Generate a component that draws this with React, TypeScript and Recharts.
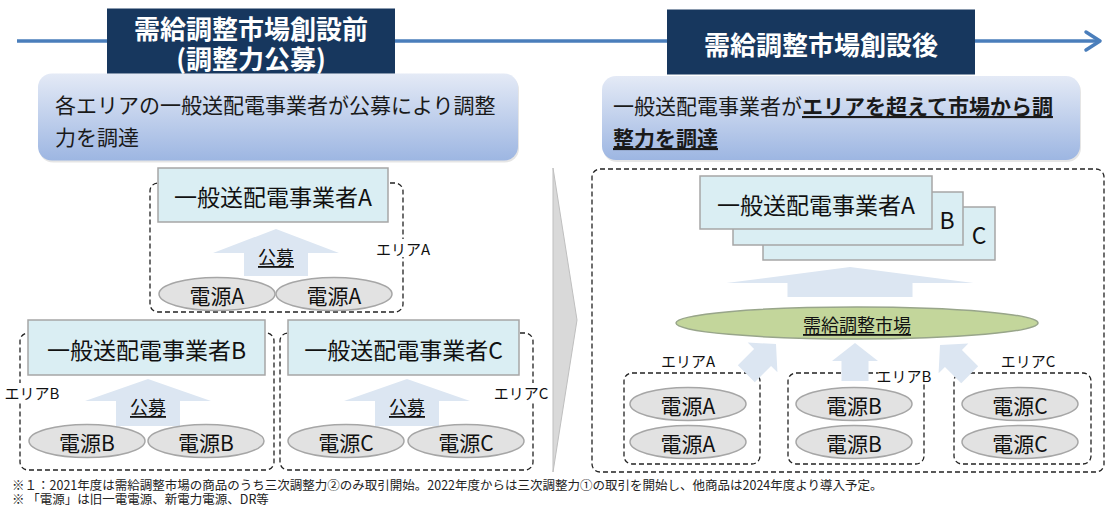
import { ScatterChart, Scatter, XAxis, YAxis } from 'recharts';

const FONT = "'Noto Sans CJK JP', 'Noto Sans', sans-serif";
const W = 1108;
const H = 508;

// diagram items, in pixel-like units of the 1108 x 508 canvas
const timeline = [{ x: 17, y: 41, x2: 1100 }];

const titleBoxes = [
  { x: 251, y: 41, w: 288, h: 65, lines: ['需給調整市場創設前', '(調整力公募)'] },
  { x: 821, y: 42, w: 308, h: 65, lines: ['需給調整市場創設後'] },
];

const subtitleBoxes = [
  {
    id: 'l', x: 278, y: 117, w: 480, h: 87, textX: 55,
    lines: [[{ t: '各エリアの一般送配電事業者が公募により調整' }], [{ t: '力を調達' }]],
  },
  {
    id: 'r', x: 841, y: 118, w: 478, h: 84, textX: 613,
    lines: [
      [{ t: '一般送配電事業者が' }, { t: 'エリアを超えて市場から調', strong: true }],
      [{ t: '整力を調達', strong: true }],
    ],
  },
];

const areaFrames = [
  { x: 276.5, y: 247.5, w: 253, h: 129 },
  { x: 147, y: 401.5, w: 254, h: 137 },
  { x: 406.5, y: 401.5, w: 253, h: 137 },
  { x: 848, y: 320.5, w: 512, h: 303 },
  { x: 692, y: 418.5, w: 136, h: 91 },
  { x: 856, y: 418.5, w: 136, h: 91 },
  { x: 1022.5, y: 418.5, w: 137, h: 91 },
];

const chevron = [{ x: 553, y: 168, tipX: 577, tipY: 320, y2: 472 }];

const companyBoxes = [
  { x: 273, y: 195, w: 230, h: 54, label: '一般送配電事業者A' },
  { x: 146.5, y: 347.5, w: 237, h: 55, label: '一般送配電事業者B' },
  { x: 403.5, y: 347.5, w: 231, h: 55, label: '一般送配電事業者C' },
  { x: 879, y: 233.5, w: 232, h: 53, label: '' },
  { x: 848, y: 218.5, w: 230, h: 53, label: '' },
  { x: 816, y: 202.5, w: 232, h: 53, label: '一般送配電事業者A' },
];

const upArrows = [
  { x: 276, y: 229, angle: 90, len: 47, headLen: 24, headW: 126, shaftW: 64 },
  { x: 148, y: 379, angle: 90, len: 47, headLen: 22, headW: 126, shaftW: 64 },
  { x: 407, y: 379, angle: 90, len: 47, headLen: 22, headW: 126, shaftW: 64 },
  { x: 850, y: 267, angle: 90, len: 30, headLen: 16, headW: 247, shaftW: 125 },
  { x: 855, y: 343, angle: 90, len: 38, headLen: 18, headW: 46, shaftW: 27 },
  { x: 776, y: 344, angle: 45, len: 42, headLen: 19, headW: 42, shaftW: 24 },
  { x: 940, y: 345, angle: 135, len: 42, headLen: 19, headW: 42, shaftW: 24 },
];

const sources = [
  { x: 217, y: 294, label: '電源A' },
  { x: 334, y: 294, label: '電源A' },
  { x: 87, y: 441, label: '電源B' },
  { x: 206, y: 441, label: '電源B' },
  { x: 346, y: 441, label: '電源C' },
  { x: 466, y: 441, label: '電源C' },
  { x: 688, y: 404, label: '電源A' },
  { x: 688, y: 442, label: '電源A' },
  { x: 854, y: 404, label: '電源B' },
  { x: 854, y: 442, label: '電源B' },
  { x: 1020, y: 404, label: '電源C' },
  { x: 1020, y: 442, label: '電源C' },
];

const market = [{ x: 857, y: 323, rx: 181, ry: 16, label: '需給調整市場' }];

const labels = [
  { x: 276, y: 256, text: '公募', size: 18, underline: true },
  { x: 148, y: 406, text: '公募', size: 18, underline: true },
  { x: 407, y: 406, text: '公募', size: 18, underline: true },
  { x: 403, y: 248, text: 'エリアA', size: 15, bg: true },
  { x: 32, y: 392, text: 'エリアB', size: 15, bg: true },
  { x: 521, y: 392, text: 'エリアC', size: 15, bg: true },
  { x: 688, y: 360, text: 'エリアA', size: 15, bg: true },
  { x: 904, y: 375, text: 'エリアB', size: 15, bg: true },
  { x: 1028, y: 360, text: 'エリアC', size: 15, bg: true },
  { x: 947, y: 219, text: 'B', size: 23 },
  { x: 979, y: 234, text: 'C', size: 23 },
];

const footnotes = [
  { x: 12, y: 484, text: '※１：2021年度は需給調整市場の商品のうち三次調整力②のみ取引開始。2022年度からは三次調整力①の取引を開始し、他商品は2024年度より導入予定。' },
  { x: 12, y: 498, text: '※ 「電源」は旧一電電源、新電力電源、DR等' },
];

function TimelineShape(props: any) {
  const { cx, cy, payload } = props;
  const x2 = payload.x2;
  return (
    <g>
      <line x1={cx} y1={cy} x2={x2} y2={cy} stroke="#4a7ebb" strokeWidth={3.5} />
      <polyline points={`${x2 - 14},${cy - 9} ${x2},${cy} ${x2 - 14},${cy + 9}`} fill="none" stroke="#4a7ebb" strokeWidth={3.5} strokeLinejoin="round" strokeLinecap="round" />
    </g>
  );
}

function TitleShape(props: any) {
  const { cx, cy, payload } = props;
  const { w, h, lines } = payload;
  return (
    <g>
      <rect x={cx - w / 2} y={cy - h / 2} width={w} height={h} fill="#17375e" />
      {lines.map((t: string, i: number) => (
        <text key={i} x={cx} y={cy + (i - (lines.length - 1) / 2) * 30 + 1} textAnchor="middle" dominantBaseline="central"
          fill="#fff" fontSize={26} fontWeight={700} fontFamily={FONT}>{t}</text>
      ))}
    </g>
  );
}

function SubtitleShape(props: any) {
  const { cx, cy, payload } = props;
  const { w, h, lines, id, textX } = payload;
  const gid = `subgrad-${id}`;
  return (
    <g>
      <defs>
        <linearGradient id={gid} x1="0" y1="0" x2="0" y2="1">
          <stop offset="0%" stopColor="#e4eaf6" />
          <stop offset="100%" stopColor="#9db6e2" />
        </linearGradient>
      </defs>
      <rect x={cx - w / 2 + 1} y={cy - h / 2 + 2} width={w} height={h} rx={14} fill="rgba(0,0,0,0.10)" />
      <rect x={cx - w / 2} y={cy - h / 2} width={w} height={h} rx={14} fill={`url(#${gid})`} />
      {lines.map((segs: any[], i: number) => (
        <text key={i} x={textX} y={cy - 13 + i * 32} dominantBaseline="central" fill="#1a1a1a" fontSize={21} fontFamily={FONT}>
          {segs.map((s: any, j: number) => (
            <tspan key={j} fontWeight={s.strong ? 700 : 400} textDecoration={s.strong ? 'underline' : undefined}>{s.t}</tspan>
          ))}
        </text>
      ))}
    </g>
  );
}

function FrameShape(props: any) {
  const { cx, cy, payload } = props;
  const { w, h } = payload;
  return <rect x={cx - w / 2} y={cy - h / 2} width={w} height={h} rx={8} fill="none" stroke="#222" strokeWidth={1.3} strokeDasharray="5 3" />;
}

function ChevronShape(props: any) {
  const { cx, cy, payload } = props;
  return <polygon points={`${cx},${cy} ${payload.tipX},${payload.tipY} ${cx},${payload.y2}`} fill="#d9d9d9" stroke="#bfbfbf" strokeWidth={1} />;
}

function CompanyShape(props: any) {
  const { cx, cy, payload } = props;
  const { w, h, label } = payload;
  return (
    <g>
      <rect x={cx - w / 2} y={cy - h / 2} width={w} height={h} fill="#daeef3" stroke="#a6a6a6" strokeWidth={1.5} />
      {label ? (
        <text x={cx} y={cy + 1} textAnchor="middle" dominantBaseline="central" fill="#111" fontSize={23} fontFamily={FONT}>{label}</text>
      ) : null}
    </g>
  );
}

function ArrowShape(props: any) {
  const { cx, cy, payload } = props;
  const { angle, len, headLen, headW, shaftW } = payload;
  const pts = [
    [0, 0], [-headLen, -headW / 2], [-headLen, -shaftW / 2], [-len, -shaftW / 2],
    [-len, shaftW / 2], [-headLen, shaftW / 2], [-headLen, headW / 2],
  ].map((p) => p.join(',')).join(' ');
  return <polygon points={pts} transform={`translate(${cx},${cy}) rotate(${-angle})`} fill="#dce6f2" />;
}

function SourceShape(props: any) {
  const { cx, cy, payload } = props;
  return (
    <g>
      <ellipse cx={cx} cy={cy} rx={58} ry={16.5} fill="#e2e2e2" stroke="#a6a6a6" strokeWidth={1.5} />
      <text x={cx} y={cy + 1} textAnchor="middle" dominantBaseline="central" fill="#111" fontSize={21} fontFamily={FONT}>{payload.label}</text>
    </g>
  );
}

function MarketShape(props: any) {
  const { cx, cy, payload } = props;
  return (
    <g>
      <ellipse cx={cx} cy={cy} rx={payload.rx} ry={payload.ry} fill="#c3d69b" stroke="#98a58a" strokeWidth={1.5} />
      <text x={cx} y={cy + 1} textAnchor="middle" dominantBaseline="central" fill="#111" fontSize={18} fontFamily={FONT} textDecoration="underline">{payload.label}</text>
    </g>
  );
}

function LabelShape(props: any) {
  const { cx, cy, payload } = props;
  const { text, size, underline, bg } = payload;
  const bw = text.length * size * 0.85;
  return (
    <g>
      {bg ? <rect x={cx - bw / 2} y={cy - size * 0.6} width={bw} height={size * 1.2} fill="#fff" /> : null}
      <text x={cx} y={cy} textAnchor="middle" dominantBaseline="central" fill="#111" fontSize={size} fontFamily={FONT}
        textDecoration={underline ? 'underline' : undefined}>{text}</text>
    </g>
  );
}

function FootnoteShape(props: any) {
  const { cx, cy, payload } = props;
  return <text x={cx} y={cy} dominantBaseline="central" fill="#222" fontSize={12.5} fontFamily={FONT}>{payload.text}</text>;
}

export default function App() {
  return (
    <div style={{ position: 'absolute', left: 0, top: 0, background: '#fff' }}>
      <ScatterChart width={W} height={H} margin={{ top: 0, right: 0, bottom: 0, left: 0 }}>
        <XAxis type="number" dataKey="x" domain={[0, W]} hide />
        <YAxis type="number" dataKey="y" domain={[0, H]} reversed hide />
        <Scatter data={timeline} shape={TimelineShape} isAnimationActive={false} />
        <Scatter data={subtitleBoxes} shape={SubtitleShape} isAnimationActive={false} />
        <Scatter data={titleBoxes} shape={TitleShape} isAnimationActive={false} />
        <Scatter data={areaFrames} shape={FrameShape} isAnimationActive={false} />
        <Scatter data={chevron} shape={ChevronShape} isAnimationActive={false} />
        <Scatter data={companyBoxes} shape={CompanyShape} isAnimationActive={false} />
        <Scatter data={upArrows} shape={ArrowShape} isAnimationActive={false} />
        <Scatter data={sources} shape={SourceShape} isAnimationActive={false} />
        <Scatter data={market} shape={MarketShape} isAnimationActive={false} />
        <Scatter data={labels} shape={LabelShape} isAnimationActive={false} />
        <Scatter data={footnotes} shape={FootnoteShape} isAnimationActive={false} />
      </ScatterChart>
    </div>
  );
}
